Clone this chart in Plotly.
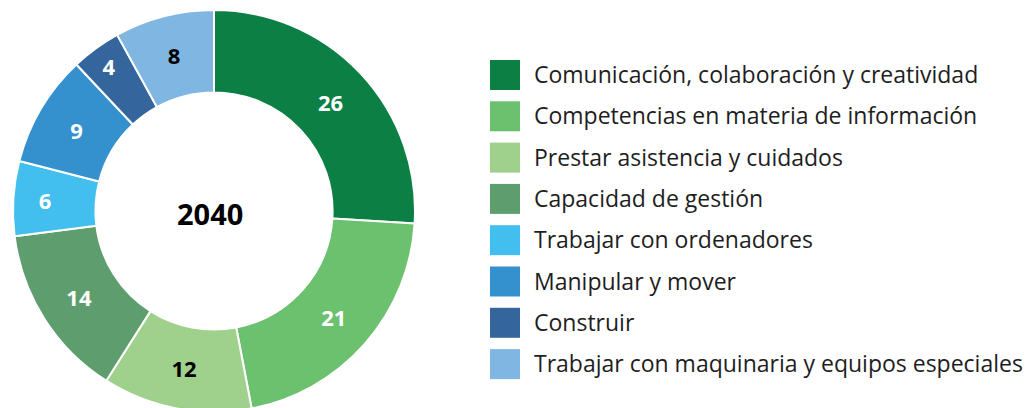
import plotly.graph_objects as go

categories = [
    "Comunicación, colaboración y creatividad",
    "Competencias en materia de información",
    "Prestar asistencia y cuidados",
    "Capacidad de gestión",
    "Trabajar con ordenadores",
    "Manipular y mover",
    "Construir",
    "Trabajar con maquinaria y equipos especiales",
]
values = [26, 21, 12, 14, 6, 9, 4, 8]
colors = ["#0c7f45", "#6cc16e", "#9fd18c", "#5e9e6e", "#42bfee", "#3491cd", "#34659c", "#80b6e2"]
label_colors = ["white", "white", "black", "white", "white", "white", "white", "black"]
center_label = "2040"

# page has an 8px body margin; figure coordinates are page coordinates minus 8
W, H = 1027, 408
FONT = "Open Sans"

fig = go.Figure()
fig.add_trace(go.Pie(
    labels=categories,
    values=values,
    sort=False,
    direction="clockwise",
    rotation=0,
    hole=0.59,
    marker=dict(colors=colors, line=dict(color="white", width=2)),
    textinfo="value",
    textposition="inside",
    insidetextorientation="horizontal",
    textfont=dict(family=FONT, size=22, color=label_colors, weight="bold"),
    domain=dict(x=[5 / W, 407 / W], y=[4 / H, 406 / H]),
    showlegend=False,
    hoverinfo="label+value",
))

fig.add_annotation(
    text=center_label, x=202 / W, y=1 - 205 / H, xref="paper", yref="paper",
    xanchor="center", yanchor="middle",
    showarrow=False, font=dict(family=FONT, size=29, color="black", weight="bold"),
)

# custom legend
step = 41.3
for i, (cat, col) in enumerate(zip(categories, colors)):
    cy = 67 + step * i
    fig.add_shape(type="rect", xref="paper", yref="paper",
                  x0=482 / W, x1=512 / W, y0=1 - (cy - 15) / H, y1=1 - (cy + 15) / H,
                  fillcolor=col, line=dict(width=0))
    fig.add_annotation(text=cat, x=524 / W, y=1 - (cy - 1) / H, xref="paper", yref="paper",
                       xanchor="left", yanchor="middle", showarrow=False,
                       font=dict(family=FONT, size=23, color="#1e1e1e"))

fig.update_layout(
    width=W, height=H,
    margin=dict(l=0, r=0, t=0, b=0),
    paper_bgcolor="white", plot_bgcolor="white",
)
fig.write_html("out.html")
